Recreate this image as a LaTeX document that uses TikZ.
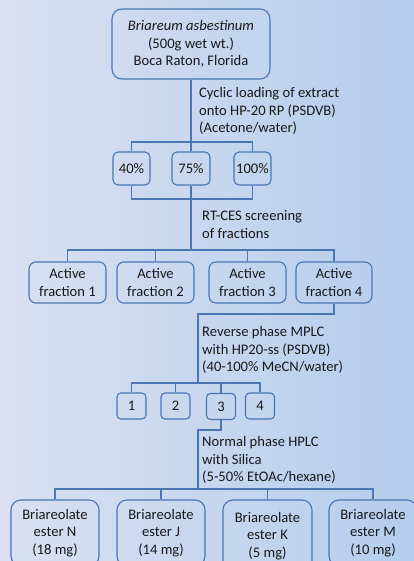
\documentclass[tikz,border=0pt]{standalone}
\usepackage{fontspec}
\setmainfont{Carlito}
\definecolor{lc}{RGB}{74,118,178}
\definecolor{bgl}{RGB}{218,224,241}
\definecolor{bgr}{RGB}{180,205,237}
\definecolor{tc}{RGB}{25,25,25}
\begin{document}
\begin{tikzpicture}[x=1pt,y=-1pt,
  every node/.style={text=tc,font=\fontsize{14.6}{17.6}\selectfont},
  box/.style={draw=lc,line width=1.1pt,rounded corners=#1,align=center,inner sep=0pt},
  box/.default=7pt,
  lbl/.style={anchor=west,align=left,inner sep=0pt},
  conn/.style={draw=lc,line width=1.2pt}]
\useasboundingbox (0,0) rectangle (414,561);
\shade[left color=bgl,right color=bgr] (0,0) rectangle (414,561);
\clip (0,0) rectangle (414,561);
% nodes
\node[box=10pt,minimum width=158pt,minimum height=70pt] (top) at (191,44) {\textit{Briareum asbestinum}\\(500g wet wt.)\\Boca Raton, Florida};
\node[box=5pt,minimum width=37pt,minimum height=33pt] (p40) at (131.5,168.5) {40\%};
\node[box=5pt,minimum width=38pt,minimum height=33pt] (p75) at (191,168.5) {75\%};
\node[box=5pt,minimum width=37pt,minimum height=33pt] (p100) at (252.5,168.5) {100\%};
\node[box,minimum width=77pt,minimum height=41pt] (a1) at (67.5,282.5) {Active\\fraction 1};
\node[box,minimum width=77pt,minimum height=41pt] (a2) at (155.5,282.5) {Active\\fraction 2};
\node[box,minimum width=77pt,minimum height=41pt] (a3) at (247.5,282.5) {Active\\fraction 3};
\node[box,minimum width=76pt,minimum height=41pt] (a4) at (334,282.5) {Active\\fraction 4};
\node[box=4pt,minimum width=29pt,minimum height=26pt] (n1) at (131.5,406) {1};
\node[box=4pt,minimum width=29pt,minimum height=26pt] (n2) at (175.5,406) {2};
\node[box=4pt,minimum width=29pt,minimum height=26pt] (n3) at (221,406.5) {3};
\node[box=4pt,minimum width=29pt,minimum height=26pt] (n4) at (260,406) {4};
\node[box=10pt,minimum width=88pt,minimum height=66pt] (eN) at (55,533) {Briareolate\\ester N\\(18 mg)};
\node[box=10pt,minimum width=88pt,minimum height=66pt] (eJ) at (161,533) {Briareolate\\ester J\\(14 mg)};
\node[box=10pt,minimum width=89pt,minimum height=72pt] (eK) at (267.5,536) {Briareolate\\ester K\\(5 mg)};
\node[box=10pt,minimum width=88pt,minimum height=66pt] (eM) at (373,533) {Briareolate\\ester M\\(10 mg)};
% labels
\node[lbl] (l1) at (199,111) {Cyclic loading of extract\\onto HP-20 RP (PSDVB)\\(Acetone/water)};
\node[lbl] (l2) at (202,224.5) {RT-CES screening\\of fractions};
\node[lbl] (l3) at (202,350) {Reverse phase MPLC\\with HP20-ss (PSDVB)\\(40-100\% MeCN/water)};
\node[lbl] (l4) at (202,460) {Normal phase HPLC\\with Silica\\(5-50\% EtOAc/hexane)};
% coordinates
\coordinate (b1) at (191,142);
\coordinate (b2) at (191,199);
\coordinate (b3) at (191,250);
\coordinate (b4) at (198,314);
\coordinate (b5) at (198,383);
\coordinate (b6) at (198,430);
\coordinate (b7) at (198,489);
% connectors
\draw[conn] (top.south) -- (p75.north);
\draw[conn] (p40.north) |- (b1) -| (p100.north);
\draw[conn] (p40.south) |- (b2) -| (p100.south);
\draw[conn] (p75.south) -- (b3);
\draw[conn] (a1.north) |- (b3) -| (a4.north);
\draw[conn] (a2.north) |- (b3);
\draw[conn] (a3.north) |- (b3);
\draw[conn] (a4.south) |- (b4) -- (b5);
\draw[conn] (n1.north) |- (b5) -| (n4.north);
\draw[conn] (n2.north) |- (b5);
\draw[conn] (n3.north) |- (b5);
\draw[conn] (n3.south) |- (b6) -- (b7);
\draw[conn] (eN.north) |- (b7) -| (eM.north);
\draw[conn] (eJ.north) |- (b7);
\draw[conn] (eK.north) |- (b7);
\end{tikzpicture}
\end{document}
